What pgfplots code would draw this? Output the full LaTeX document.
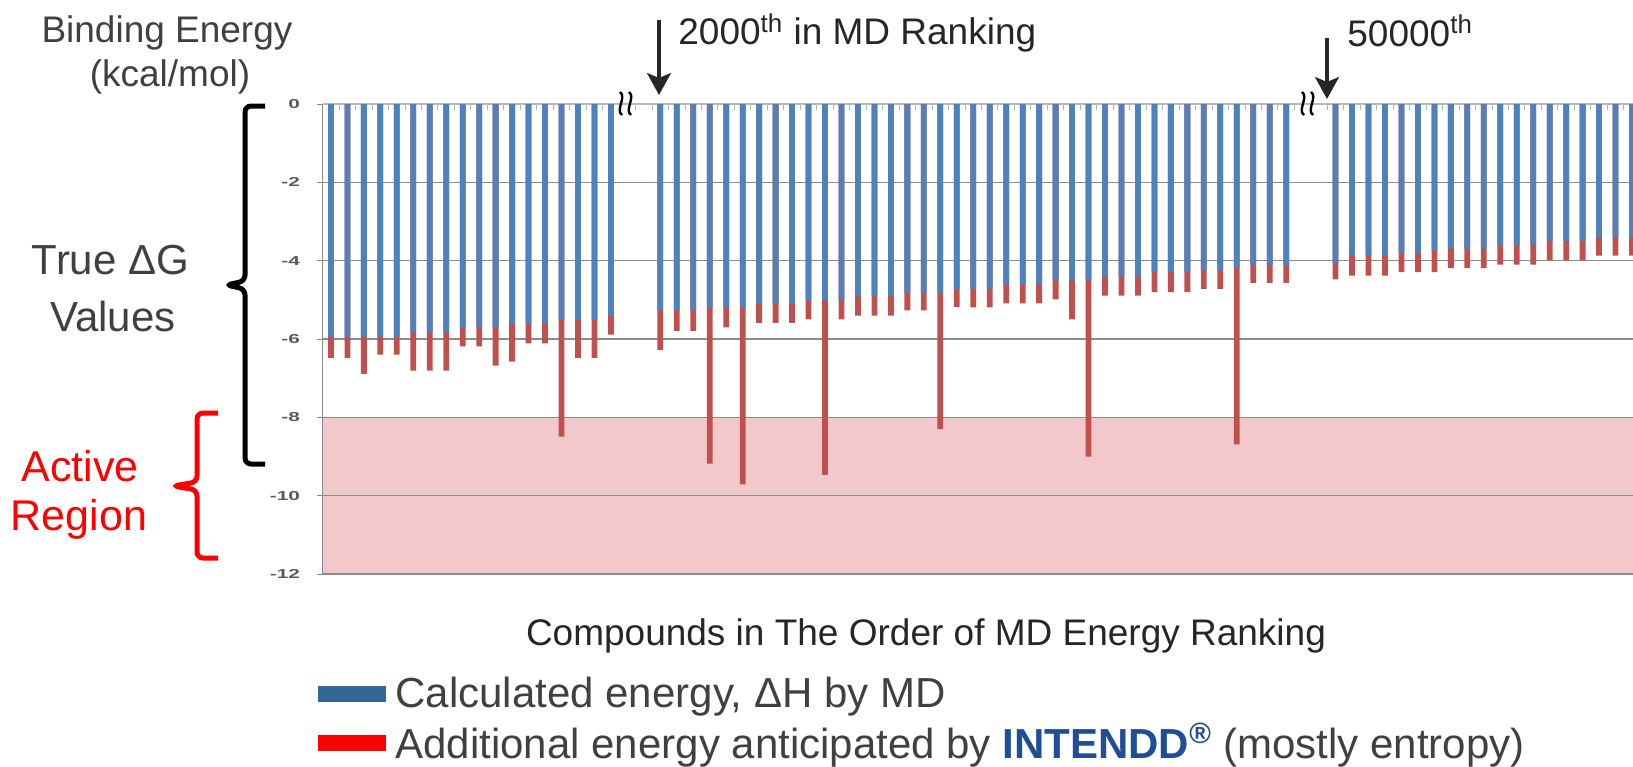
\documentclass[border=0pt]{standalone}
\usepackage{graphicx}
\usepackage{pgfplots}
\usepackage{pgfplotstable}
\pgfplotsset{compat=1.18}
\usepackage{fontspec}
\setmainfont{Liberation Sans}
\usetikzlibrary{arrows.meta}
\definecolor{barblue}{HTML}{4F81BD}
\definecolor{barred}{HTML}{C0504D}
\definecolor{zone}{HTML}{F2C9CA}
\definecolor{gridgray}{HTML}{8C8C8C}
\definecolor{txt}{HTML}{404040}
\definecolor{dark}{HTML}{262626}
\definecolor{ticklab}{HTML}{595959}
\definecolor{legblue}{HTML}{336699}
\definecolor{intblue}{HTML}{1F4E96}
\newcommand\sx[1]{\scalebox{1.6}[1]{#1}}

\pgfplotstableread{
x dh tot
0 -5.96 -6.48
1 -5.96 -6.48
2 -5.94 -6.89
3 -5.94 -6.40
4 -5.94 -6.40
5 -5.83 -6.81
6 -5.83 -6.81
7 -5.83 -6.81
8 -5.70 -6.19
9 -5.70 -6.19
10 -5.70 -6.68
11 -5.61 -6.58
12 -5.61 -6.11
13 -5.61 -6.11
14 -5.51 -8.49
15 -5.51 -6.48
16 -5.51 -6.48
17 -5.40 -5.89
20 -5.26 -6.28
21 -5.26 -5.79
22 -5.26 -5.79
23 -5.20 -9.18
24 -5.20 -5.70
25 -5.20 -9.71
26 -5.10 -5.59
27 -5.10 -5.59
28 -5.10 -5.59
29 -5.02 -5.50
30 -5.02 -9.47
31 -5.00 -5.50
32 -4.91 -5.40
33 -4.91 -5.40
34 -4.91 -5.40
35 -4.83 -5.27
36 -4.83 -5.27
37 -4.83 -8.30
38 -4.72 -5.18
39 -4.72 -5.19
40 -4.72 -5.19
41 -4.61 -5.09
42 -4.61 -5.09
43 -4.61 -5.09
44 -4.51 -4.99
45 -4.51 -5.50
46 -4.49 -9.00
47 -4.40 -4.89
48 -4.40 -4.89
49 -4.40 -4.89
50 -4.29 -4.80
51 -4.29 -4.80
52 -4.29 -4.80
53 -4.25 -4.72
54 -4.25 -4.72
55 -4.18 -8.69
56 -4.12 -4.57
57 -4.12 -4.57
58 -4.12 -4.57
61 -4.06 -4.48
62 -3.87 -4.38
63 -3.87 -4.38
64 -3.87 -4.38
65 -3.81 -4.29
66 -3.81 -4.29
67 -3.74 -4.29
68 -3.69 -4.19
69 -3.69 -4.19
70 -3.69 -4.19
71 -3.61 -4.10
72 -3.61 -4.10
73 -3.61 -4.10
74 -3.50 -3.99
75 -3.50 -3.99
76 -3.50 -3.99
77 -3.41 -3.87
78 -3.41 -3.87
79 -3.41 -3.87
}\energy

\begin{document}
\begin{tikzpicture}
\begin{axis}[
  set layers,
  at={(161.35pt,-287pt)}, anchor=south west,
  scale only axis, width=655.15pt, height=235pt,
  xmin=-0.5, xmax=79.06, ymin=-12, ymax=0,
  axis x line*=top, axis y line*=left,
  x axis line style={-, draw=gray!55, line width=0.6pt},
  y axis line style={-, draw=gridgray, line width=0.6pt},
  xtick={-0.5,0.5,...,79.5}, xticklabels={}, xtick align=inside,
  xtick style={draw=gray!60, line width=0.5pt},
  ytick={-12,-10,...,0},
  yticklabels={\sx{-12},\sx{-10},\sx{-8},\sx{-6},\sx{-4},\sx{-2},\sx{0}},
  ytick align=outside,
  ytick style={draw=gridgray, line width=0.5pt},
  major tick length=3pt,
  ymajorgrids, grid style={draw=gridgray, line width=0.6pt},
  yticklabel style={font=\fontsize{6.5}{7}\selectfont\bfseries, text=ticklab, inner sep=0pt, anchor=east, xshift=-8.2pt},
  legend style={at={(-0.0036,-0.2091)}, anchor=north west, draw=none, fill=none,
    inner sep=0pt, row sep=2.6pt, font=\fontsize{21}{25}\selectfont, text=txt},
  legend cell align=left,
]
\addplot[fill=zone, draw=none, on layer=axis background, forget plot]
  coordinates {(-0.5,-8) (80,-8) (80,-12) (-0.5,-12)} \closedcycle;
\addplot[ybar, bar width=2.9pt, bar shift=0pt, fill=barred, draw=none, forget plot]
  table[x=x, y=tot] {\energy};
\addplot[ybar, bar width=2.9pt, bar shift=0pt, fill=barblue, draw=none, forget plot]
  table[x=x, y=dh] {\energy};
\addlegendimage{legend image code/.code={\fill[legblue] (0pt,-3.75pt) rectangle (33.5pt,3.75pt); \path (36.2pt,0pt);}}
\addlegendentry{Calculated energy, ΔH by MD}
\addlegendimage{legend image code/.code={\fill[red] (0pt,-3.75pt) rectangle (33.5pt,3.75pt); \path (36.2pt,0pt);}}
\addlegendentry{Additional energy anticipated by \textcolor{intblue}{\bfseries INTENDD\textsuperscript{®}} (mostly entropy)}
\end{axis}

\begin{scope}[x=0.5pt,y=-0.5pt]
% texts
\node[font=\fontsize{18.5}{22}\selectfont, text=txt] at (167,33) {Binding Energy};
\node[font=\fontsize{18.5}{22}\selectfont, text=txt] at (170,77) {(kcal/mol)};
\node[font=\fontsize{18.5}{22}\selectfont, text=dark, anchor=west, inner sep=0pt] at (678,33) {2000\textsuperscript{th} in MD Ranking};
\node[font=\fontsize{18.5}{22}\selectfont, text=dark, anchor=west, inner sep=0pt] at (1347,31) {50000\textsuperscript{th}};
\node[font=\fontsize{21}{25}\selectfont, text=txt, inner sep=0pt] at (110.5,260) {True ΔG};
\node[font=\fontsize{21}{25}\selectfont, text=txt, inner sep=0pt] at (113,316) {Values};
\node[font=\fontsize{21.5}{26}\selectfont, text=red] at (80,466) {Active};
\node[font=\fontsize{21.5}{26}\selectfont, text=red] at (79,519) {Region};
\node[font=\fontsize{18.5}{22}\selectfont, text=dark] at (926,636) {Compounds in The Order of MD Energy Ranking};

% arrows
\draw[dark, line width=1.6pt, -{Stealth[length=11pt,width=12pt,inset=2.5pt]}] (659,20) -- (659,95);
\draw[dark, line width=1.6pt, -{Stealth[length=11pt,width=12pt,inset=2.5pt]}] (1327,38) -- (1327,99);

% break marks
\foreach \bx in {621,630,1303,1312}{
  \draw[black, line width=1.2pt] (\bx-1,92) .. controls (\bx+6,97) and (\bx-6,110) .. (\bx+1,115);
}

% brackets
\draw[black, line width=2.5pt, rounded corners=3pt] (265,106) -- (245,106) -- (245,281) -- (226,285) -- (245,289) -- (245,464) -- (265,464);
\draw[red, line width=2.5pt, rounded corners=3pt] (218,413) -- (197,413) -- (197,482) -- (173,486) -- (197,490) -- (197,558) -- (218,558);
\pgfresetboundingbox
\path (0,0) rectangle (1633,766);
\end{scope}
\end{tikzpicture}
\end{document}
